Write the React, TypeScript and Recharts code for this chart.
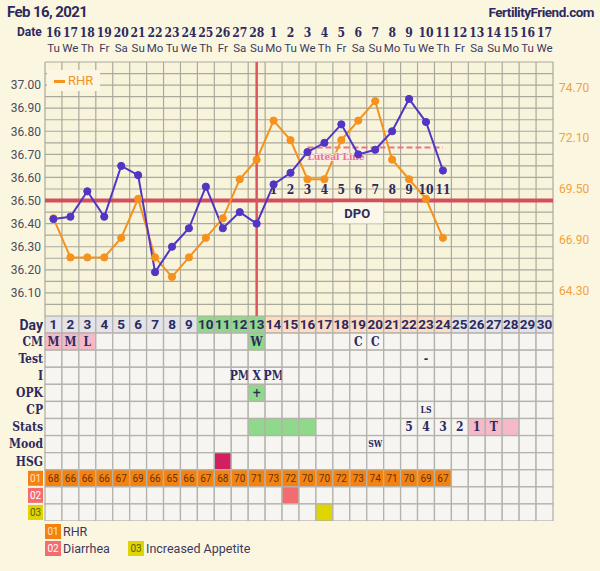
import React from 'react';
import {
  ComposedChart,
  Line,
  XAxis,
  YAxis,
  CartesianGrid,
  ReferenceLine,
  ReferenceDot,
  Scatter,
} from 'recharts';

// cycle days and the calendar dates above them
const days = [1, 2, 3, 4, 5, 6, 7, 8, 9, 10, 11, 12, 13, 14, 15, 16, 17, 18, 19, 20, 21, 22, 23, 24, 25, 26, 27, 28, 29, 30];
const dateLabels = ['16', '17', '18', '19', '20', '21', '22', '23', '24', '25', '26', '27', '28', '1', '2', '3', '4', '5', '6', '7', '8', '9', '10', '11', '12', '13', '14', '15', '16', '17'];
const weekdays = ['Tu', 'We', 'Th', 'Fr', 'Sa', 'Su', 'Mo', 'Tu', 'We', 'Th', 'Fr', 'Sa', 'Su', 'Mo', 'Tu', 'We', 'Th', 'Fr', 'Sa', 'Su', 'Mo', 'Tu', 'We', 'Th', 'Fr', 'Sa', 'Su', 'Mo', 'Tu', 'We'];

// temperature (C) and resting heart rate, days 1-24
const temps = [36.42, 36.43, 36.54, 36.43, 36.65, 36.61, 36.19, 36.30, 36.38, 36.56, 36.38, 36.45, 36.40, 36.57, 36.62, 36.71, 36.75, 36.83, 36.70, 36.72, 36.80, 36.94, 36.84, 36.63];
const rhr = [68, 66, 66, 66, 67, 69, 66, 65, 66, 67, 68, 70, 71, 73, 72, 70, 70, 72, 73, 74, 71, 70, 69, 67];

const tempTicks = [36.1, 36.2, 36.3, 36.4, 36.5, 36.6, 36.7, 36.8, 36.9, 37.0];
const rhrTicks = [64.3, 66.9, 69.5, 72.1, 74.7];

const coverline = 36.5;
const ovulationDay = 13;
const lutealLevel = 36.73;
const lutealFrom = 16;
const lutealTo = 24;
const dpoDays = [14, 15, 16, 17, 18, 19, 20, 21, 22, 23, 24];
const dpoLabels = ['1', '2', '3', '4', '5', '6', '7', '8', '9', '10', '11'];
const dpoLabelDay = 19;

// table rows
const rowLabels = ['Day', 'CM', 'Test', 'I', 'OPK', 'CP', 'Stats', 'Mood', 'HSG', '01', '02', '03'];
const fertileDays = [10, 11, 12, 13];
const postOvDays = [14, 15, 16, 17, 18, 19, 20, 21, 22, 23, 24];
const cmDays = [1, 2, 3, 13, 19, 20];
const cmValues = ['M', 'M', 'L', 'W', 'C', 'C'];
const testDays = [23];
const testValues = ['-'];
const sexDays = [12, 13, 14];
const sexValues = ['PM', 'X', 'PM'];
const opkDays = [13];
const opkValues = ['+'];
const cpDays = [23];
const cpValues = ['LS'];
const statsDays = [22, 23, 24, 25, 26, 27];
const statsValues = ['5', '4', '3', '2', '1', 'T'];
const statsFertile = [13, 14, 15, 16];
const statsPeriod = [26, 27, 28];
const moodDays = [20];
const moodValues = ['SW'];
const hsgDays = [11];
const diarrheaDays = [15];
const appetiteDays = [17];

// layout
const W = 600;
const AXIS_L = 45;
const AXIS_R = 47;
const PLOT_W = W - AXIS_L - AXIS_R;
const COL_W = PLOT_W / days.length;
const HEAD_H = 62;
const CHART_H = 316;
const TABLE_H = 205;
const ROW_H = TABLE_H / rowLabels.length;

const NAVY = '#2c2a5e';
const BLUE = '#5135c4';
const ORANGE = '#f5921e';
const RED = '#d24f5c';
const GRID = '#aaa99c';
const CELL = '#f6f5f1';
const CELL_LINE = '#b4b3ab';
const GREEN = '#8fd98a';
const PINK = '#f5bac9';
const PEACH = '#fddcc2';
const LAV = '#e3e3e8';
const RHR_CELL = '#f5820f';
const HSG = '#d11f5f';
const DIARRHEA = '#f56c70';
const APPETITE = '#dfd500';
const SANS = 'Roboto, "Noto Sans", sans-serif';
const SERIF = '"DejaVu Serif Condensed", "Liberation Serif", serif';

const BADGES: Record<string, { bg: string; fg: string }> = {
  '01': { bg: RHR_CELL, fg: '#fde3c4' },
  '02': { bg: DIARRHEA, fg: '#ffffff' },
  '03': { bg: APPETITE, fg: '#5e5c10' },
};

// grid lines: column edges and every 0.05 C
const colEdges = [0, ...days].map((d) => d + 0.5);
const tempGrid = Array.from({ length: 23 }, (_, i) => +(36 + i * 0.05).toFixed(2));

const lookup = (ds: number[], vs: string[], d: number) => {
  const i = ds.indexOf(d);
  return i >= 0 ? vs[i] : '';
};

const chartData = days.map((d, i) => ({
  day: d,
  temp: i < temps.length ? temps[i] : null,
  rhr: i < rhr.length ? rhr[i] : null,
}));

const dpoData = dpoDays.map((d, i) => ({ day: d, y: 36.545, label: dpoLabels[i] }));

const cells: { day: number; row: number; text: string; fill: string; kind: string }[] = [];
rowLabels.forEach((label, r) => {
  days.forEach((d, i) => {
    let text = '';
    let fill = CELL;
    let kind = 'serif';
    switch (label) {
      case 'Day':
        text = String(d);
        kind = 'day';
        fill = fertileDays.includes(d) ? GREEN : postOvDays.includes(d) ? PEACH : LAV;
        break;
      case 'CM':
        text = lookup(cmDays, cmValues, d);
        fill = text === 'M' || text === 'L' ? PINK : text === 'W' ? GREEN : CELL;
        break;
      case 'Test':
        text = lookup(testDays, testValues, d);
        break;
      case 'I':
        text = lookup(sexDays, sexValues, d);
        break;
      case 'OPK':
        text = lookup(opkDays, opkValues, d);
        if (text === '+') fill = GREEN;
        break;
      case 'CP':
        text = lookup(cpDays, cpValues, d);
        kind = 'small';
        break;
      case 'Stats':
        text = lookup(statsDays, statsValues, d);
        fill = statsFertile.includes(d) ? GREEN : statsPeriod.includes(d) ? PINK : CELL;
        break;
      case 'Mood':
        text = lookup(moodDays, moodValues, d);
        kind = 'small';
        break;
      case 'HSG':
        if (hsgDays.includes(d)) fill = HSG;
        break;
      case '01':
        if (i < rhr.length) {
          text = String(rhr[i]);
          fill = RHR_CELL;
          kind = 'rhr';
        }
        break;
      case '02':
        if (diarrheaDays.includes(d)) fill = DIARRHEA;
        break;
      case '03':
        if (appetiteDays.includes(d)) fill = APPETITE;
        break;
    }
    cells.push({ day: d, row: r + 1, text, fill, kind });
  });
});

const DateTick = (p: any) => {
  const idx = days.indexOf(p.payload.value);
  return (
    <g>
      <text x={p.x} y={37} textAnchor="middle" fontFamily={SERIF} fontWeight="bold" fontSize={12} fill={NAVY}>
        {dateLabels[idx]}
      </text>
      <text x={p.x} y={52} textAnchor="middle" fontFamily={SANS} fontSize={11.5} fill="#3b3a5c">
        {weekdays[idx]}
      </text>
    </g>
  );
};

const CellShape = (p: any) => {
  const { cx, cy, payload } = p;
  let font: any = { fontFamily: SERIF, fontSize: 12, fontWeight: 'bold', fill: NAVY };
  if (payload.kind === 'day') font = { fontFamily: SANS, fontSize: 13.5, fontWeight: 'bold', fill: NAVY };
  if (payload.kind === 'small') font = { fontFamily: SERIF, fontSize: 8.5, fontWeight: 'bold', fill: NAVY };
  if (payload.kind === 'rhr') font = { fontFamily: SANS, fontSize: 10, fontWeight: 'normal', fill: '#5a3416' };
  return (
    <g>
      <rect x={cx - COL_W / 2} y={cy - ROW_H / 2} width={COL_W} height={ROW_H} fill={payload.fill} stroke={CELL_LINE} strokeWidth={1.3} />
      {payload.text ? (
        <text x={cx} y={cy} dy="0.36em" textAnchor="middle" {...font}>
          {payload.text}
        </text>
      ) : null}
    </g>
  );
};

const RowTick = (p: any, side: 'left' | 'right') => {
  const label = rowLabels[p.payload.value - 1];
  if (!label) return <g />;
  const badge = BADGES[label];
  if (badge) {
    const bx = side === 'left' ? p.x - 15 : p.x - 1;
    return (
      <g>
        <rect x={bx} y={p.y - 7.5} width={15} height={15} fill={badge.bg} />
        <text x={bx + 7.5} y={p.y} dy="0.36em" textAnchor="middle" fontFamily={SANS} fontSize={10} fill={badge.fg}>
          {label}
        </text>
      </g>
    );
  }
  const isDay = label === 'Day';
  return (
    <text
      x={p.x}
      y={p.y}
      dy="0.36em"
      textAnchor={side === 'left' ? 'end' : 'start'}
      fontFamily={isDay ? SANS : SERIF}
      fontWeight="bold"
      fontSize={isDay ? 14 : 12}
      fill={NAVY}
    >
      {label}
    </text>
  );
};

const DpoText = (p: any) => (
  <text x={p.cx} y={p.cy} dy="0.36em" textAnchor="middle" fontFamily={SERIF} fontWeight="bold" fontSize={12} fill={NAVY}>
    {p.payload.label}
  </text>
);

const DpoBox = (p: any) => (
  <g>
    <rect x={p.cx - 25} y={p.cy + 2} width={50} height={21} fill="#fbf8ea" />
    <text x={p.cx - 1} y={p.cy + 12.5} dy="0.36em" textAnchor="middle" fontFamily={SANS} fontWeight="bold" fontSize={13} fill={NAVY}>
      DPO
    </text>
  </g>
);

const LutealLabel = (p: any) => (
  <text
    x={p.cx}
    y={p.cy + 13}
    fontFamily={SERIF}
    fontWeight="bold"
    fontSize={10}
    fill="#ee6f86"
    stroke="#fbe9ec"
    strokeWidth={1.5}
    paintOrder="stroke"
  >
    Luteal Line
  </text>
);

export default function App() {
  return (
    <div
      style={{
        position: 'absolute',
        left: 0,
        top: 0,
        width: W,
        height: 571,
        background: '#fbf6e0',
        fontFamily: SANS,
        overflow: 'hidden',
      }}
    >
      <div style={{ position: 'absolute', left: 7, top: 3, fontSize: 15, fontWeight: 700, color: NAVY, letterSpacing: -0.6 }}>
        Feb 16, 2021
      </div>
      <div style={{ position: 'absolute', right: 6, top: 4, fontSize: 13.5, fontWeight: 700, color: NAVY, letterSpacing: -0.5 }}>
        FertilityFriend.com
      </div>
      <div style={{ position: 'absolute', left: 17, top: 25, fontSize: 12, fontWeight: 700, color: NAVY }}>Date</div>

      <div style={{ position: 'absolute', left: 0, top: 0 }}>
        <ComposedChart width={W} height={CHART_H} data={chartData} margin={{ top: 0, right: 0, bottom: 0, left: 0 }}>
          <XAxis
            xAxisId="date"
            dataKey="day"
            type="number"
            domain={[0.5, 30.5]}
            ticks={days}
            interval={0}
            orientation="top"
            height={HEAD_H}
            axisLine={false}
            tickLine={false}
            tick={DateTick}
          />
          <YAxis
            yAxisId="temp"
            type="number"
            domain={[36.0, 37.1]}
            ticks={tempTicks}
            interval={0}
            width={AXIS_L}
            axisLine={false}
            tickLine={false}
            tickSize={0}
            tickMargin={4}
            tickFormatter={(v: number) => v.toFixed(2)}
            tick={{ fontSize: 12, fill: '#4d4c5c', fontFamily: SANS }}
          />
          <YAxis
            yAxisId="rhr"
            orientation="right"
            type="number"
            domain={[63, 76]}
            ticks={rhrTicks}
            interval={0}
            width={AXIS_R}
            axisLine={false}
            tickLine={false}
            tickSize={0}
            tickMargin={6}
            tickFormatter={(v: number) => v.toFixed(2)}
            tick={{ fontSize: 12, fill: '#f2a23a', fontFamily: SANS }}
          />
          <CartesianGrid xAxisId="date" yAxisId="temp" horizontal={false} vertical={false} fill="#f8f4dc" />
          {tempGrid.map((v) => (
            <ReferenceLine key={'h' + v} xAxisId="date" yAxisId="temp" y={v} stroke={GRID} strokeWidth={1.2} />
          ))}
          {colEdges.map((v) => (
            <ReferenceLine key={'v' + v} xAxisId="date" yAxisId="temp" x={v} stroke={GRID} strokeWidth={1.2} />
          ))}
          <ReferenceLine xAxisId="date" yAxisId="temp" y={coverline} stroke={RED} strokeWidth={4} />
          <ReferenceLine xAxisId="date" yAxisId="temp" x={ovulationDay} stroke="#e0545f" strokeWidth={2.5} />
          <ReferenceLine
            xAxisId="date"
            yAxisId="temp"
            segment={[
              { x: lutealFrom, y: lutealLevel },
              { x: lutealTo, y: lutealLevel },
            ]}
            stroke="#f0708a"
            strokeWidth={2}
            strokeDasharray="6 3"
          />
          <ReferenceDot xAxisId="date" yAxisId="temp" x={lutealFrom} y={lutealLevel} shape={LutealLabel} />
          <ReferenceDot xAxisId="date" yAxisId="temp" x={dpoLabelDay} y={coverline} shape={DpoBox} />
          <Scatter xAxisId="date" yAxisId="temp" data={dpoData} dataKey="y" shape={DpoText} isAnimationActive={false} />
          <Line
            xAxisId="date"
            yAxisId="rhr"
            dataKey="rhr"
            type="linear"
            stroke={ORANGE}
            strokeWidth={2}
            dot={{ r: 3.6, fill: ORANGE, stroke: ORANGE, strokeWidth: 1 }}
            activeDot={false}
            isAnimationActive={false}
          />
          <Line
            xAxisId="date"
            yAxisId="temp"
            dataKey="temp"
            type="linear"
            stroke={BLUE}
            strokeWidth={2}
            dot={{ r: 3.6, fill: BLUE, stroke: BLUE, strokeWidth: 1 }}
            activeDot={false}
            isAnimationActive={false}
          />
        </ComposedChart>
      </div>

      <div
        style={{
          position: 'absolute',
          left: 47,
          top: 70,
          width: 53,
          height: 21,
          background: '#fbf7e4',
          display: 'flex',
          alignItems: 'center',
          color: ORANGE,
          fontSize: 13,
        }}
      >
        <span style={{ display: 'inline-block', width: 11, height: 3, background: ORANGE, margin: '2px 3px 0 7px' }} />
        RHR
      </div>

      <div style={{ position: 'absolute', left: 0, top: CHART_H }}>
        <ComposedChart width={W} height={TABLE_H} data={cells} margin={{ top: 0, right: 0, bottom: 0, left: 0 }}>
          <XAxis dataKey="day" type="number" domain={[0.5, 30.5]} hide />
          <YAxis
            yAxisId="row"
            type="number"
            domain={[0.5, 12.5]}
            ticks={[1, 2, 3, 4, 5, 6, 7, 8, 9, 10, 11, 12]}
            interval={0}
            reversed
            width={AXIS_L}
            axisLine={false}
            tickLine={false}
            tickSize={0}
            tickMargin={2}
            tick={(p: any) => RowTick(p, 'left')}
          />
          <YAxis
            yAxisId="rowR"
            orientation="right"
            type="number"
            domain={[0.5, 12.5]}
            ticks={[1, 2, 3, 4, 5, 6, 7, 8, 9, 10, 11, 12]}
            interval={0}
            reversed
            width={AXIS_R}
            axisLine={false}
            tickLine={false}
            tickSize={0}
            tickMargin={4}
            tick={(p: any) => RowTick(p, 'right')}
          />
          <Scatter yAxisId="row" dataKey="row" shape={CellShape} isAnimationActive={false} />
        </ComposedChart>
      </div>

      <div style={{ position: 'absolute', left: 45, top: 523, fontSize: 12.5, color: '#3b3a5c' }}>
        <div style={{ display: 'flex', alignItems: 'center', height: 16 }}>
          <span style={{ width: 16, height: 15, background: RHR_CELL, color: BADGES['01'].fg, fontSize: 10, display: 'inline-flex', alignItems: 'center', justifyContent: 'center', marginRight: 2 }}>01</span>
          RHR
        </div>
        <div style={{ display: 'flex', alignItems: 'center', height: 16, marginTop: 1 }}>
          <span style={{ width: 16, height: 15, background: DIARRHEA, color: '#fff', fontSize: 10, display: 'inline-flex', alignItems: 'center', justifyContent: 'center', marginRight: 2 }}>02</span>
          <span style={{ width: 65 }}>Diarrhea</span>
          <span style={{ width: 16, height: 15, background: APPETITE, color: BADGES['03'].fg, fontSize: 10, display: 'inline-flex', alignItems: 'center', justifyContent: 'center', marginRight: 2 }}>03</span>
          Increased Appetite
        </div>
      </div>
    </div>
  );
}
